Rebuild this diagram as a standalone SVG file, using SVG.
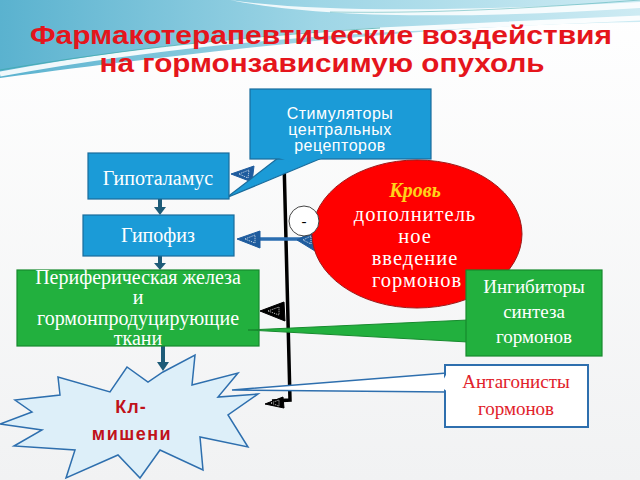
<svg xmlns="http://www.w3.org/2000/svg" width="640" height="480" viewBox="0 0 640 480">
<defs>
<linearGradient id="sky" x1="0" y1="0" x2="1" y2="0">
<stop offset="0" stop-color="#5ab2cf"/>
<stop offset="0.5" stop-color="#9fd6e6"/>
<stop offset="1" stop-color="#cdebf3"/>
</linearGradient>
<linearGradient id="floor" x1="0" y1="0" x2="0" y2="1">
<stop offset="0" stop-color="#ffffff"/>
<stop offset="1" stop-color="#f1f2f3"/>
</linearGradient>
<style>
.blue{fill:#1b9bd7;stroke:#1a6c9c;stroke-width:1.2}
.green{fill:#22b03e;stroke:#178a2e;stroke-width:1.2}
.wt{fill:#ffffff;font-family:"Liberation Serif","Times New Roman",serif;text-anchor:middle}
.ws{fill:#ffffff;font-family:"Liberation Sans",Arial,sans-serif;text-anchor:middle}
.title{fill:#e5151c;font-family:"Liberation Sans",Arial,sans-serif;font-weight:bold;text-anchor:middle}
.down{stroke:#1d5b78;stroke-width:4;fill:none}
.dhead{fill:#1d5b78}
.bhead{fill:#1f5c9e;stroke:#1f5c9e;stroke-width:1}
.khead{fill:#000;stroke:#000;stroke-width:1}
.dots{fill:none;stroke:#ffffff;stroke-width:0.8;stroke-dasharray:1 1}
</style>
</defs>
<rect width="640" height="480" fill="url(#floor)"/>
<path d="M0,0 H640 V22 C520,24 360,30 0,78 Z" fill="url(#sky)"/>
<path d="M0,74 C120,52 240,38 380,30 C470,26 560,22 640,18" fill="none" stroke="#ffffff" stroke-width="5" opacity="0.9"/>
<path d="M0,70 C130,48 250,36 380,28" fill="none" stroke="#3aa6a8" stroke-width="1" opacity="0.7"/>
<path d="M230,0 C330,14 480,10 640,2 L640,8 C480,18 330,20 230,0 Z" fill="#ffffff" opacity="0.85"/>
<path d="M330,12 C450,14 560,6 640,0" fill="none" stroke="#3aa6a8" stroke-width="0.8" opacity="0.6"/>

<text class="title" x="321" y="44" font-size="26" textLength="582" lengthAdjust="spacingAndGlyphs">Фармакотерапевтические воздействия</text>
<text class="title" x="322" y="72" font-size="26" textLength="445" lengthAdjust="spacingAndGlyphs">на гормонзависимую опухоль</text>

<g id="connectors">
<path class="down" d="M160,199 V209"/>
<polygon class="dhead" points="154,207 166,207 160,215"/>
<path class="down" d="M160,256 V264"/>
<polygon class="dhead" points="154,263 166,263 160,270"/>
<path class="down" d="M163,346 V364"/>
<polygon class="dhead" points="157,362 169,362 163,371"/>
<path d="M284,160 L290,400 L272,401" fill="none" stroke="#000" stroke-width="3.5"/>
<polygon class="khead" points="260,311 284,302 285,321"/>
<polygon class="dots" points="268,311 279,307 279,315"/>
<polygon class="khead" points="265,404 283,397 284,408"/>
<polygon class="dots" points="271,403 279,400 279,406"/>
<path d="M256,239 H312" stroke="#2a6db0" stroke-width="3.5"/>
<polygon class="bhead" points="237,239 260,231 260,248"/>
<polygon class="dots" points="245,239 255,235 255,243"/>
<polygon class="bhead" points="297,240 315,230 315,251"/>
<polygon class="dots" points="303,240 311,236 311,244"/>
<polygon class="bhead" points="231,174 254,166 252,182"/>
<polygon class="dots" points="239,174 249,170 248,178"/>
</g>

<g id="stimulators">
<polygon class="blue" points="278,158 226,198 322,158"/>
<rect class="blue" x="250" y="89" width="181" height="70"/>
<polygon points="279,158 322,158 300,165" fill="#1b9bd7"/>
<text class="ws" font-size="16" letter-spacing="0.5"><tspan x="340" y="119">Стимуляторы</tspan><tspan x="340" y="135">центральных</tspan><tspan x="340" y="151">рецепторов</tspan></text>
</g>

<g id="hypothalamus">
<rect class="blue" x="88" y="153" width="141" height="46"/>
<text class="wt" x="158" y="185" font-size="20">Гипоталамус</text>
</g>

<g id="hypophysis">
<rect class="blue" x="83" y="215" width="151" height="41"/>
<text class="wt" x="158" y="242" font-size="20">Гипофиз</text>
</g>

<g id="peripheral">
<rect class="green" x="17" y="270" width="242" height="76"/>
<text class="wt" font-size="20"><tspan x="138" y="284">Периферическая  железа</tspan><tspan x="138" y="304">и</tspan><tspan x="138" y="325">гормонпродуцирующие</tspan><tspan x="138" y="345">ткани</tspan></text>
</g>

<g id="blood">
<ellipse cx="417" cy="234" rx="105" ry="74" fill="#ff0000" stroke="#9c1a1a" stroke-width="1"/>
<text x="415" y="197" font-size="20" fill="#ffd21a" font-family="Liberation Serif,serif" font-weight="bold" font-style="italic" text-anchor="middle">Кровь</text>
<text class="wt" font-size="20.5" letter-spacing="1"><tspan x="415" y="221">дополнитель</tspan><tspan x="415" y="243">ное</tspan><tspan x="415" y="265">введение</tspan><tspan x="417" y="287">гормонов</tspan></text>
</g>

<g id="minus">
<circle cx="304" cy="221" r="15" fill="#ffffff" stroke="#444" stroke-width="1"/>
<text x="304" y="226" font-size="15" font-family="Liberation Serif,serif" text-anchor="middle" fill="#000">-</text>
</g>

<g id="inhibitors">
<polygon points="468,320 248,330 468,342" fill="#22b03e" stroke="#178a2e" stroke-width="1"/>
<rect class="green" x="466" y="270" width="136" height="86"/>
<text class="wt" font-size="19"><tspan x="534" y="293">Ингибиторы</tspan><tspan x="534" y="318">синтеза</tspan><tspan x="534" y="343">гормонов</tspan></text>
</g>

<g id="target">
<polygon points="163,372 195,355 192,385 238,373 218,397 258,394 228,415 248,447 200,437 203,470 160,450 140,478 118,455 66,478 75,450 14,446 42,430 0,424 32,412 15,400 60,395 58,377 110,392 127,367 148,382" fill="#ddeff9" stroke="#2e6fae" stroke-width="1.5" stroke-linejoin="miter"/>
<text x="131" y="413" font-size="18" fill="#c0121a" font-family="Liberation Sans,Arial,sans-serif" font-weight="bold" text-anchor="middle" letter-spacing="1">Кл-</text>
<text x="132" y="440" font-size="18" fill="#c0121a" font-family="Liberation Sans,Arial,sans-serif" font-weight="bold" text-anchor="middle" letter-spacing="1.5">мишени</text>
</g>

<g id="antagonists">
<polygon points="447,373 232,390 447,392" fill="#ffffff" stroke="#2e6fae" stroke-width="1.5"/>
<rect x="445" y="365" width="143" height="62" fill="#ffffff" stroke="#2e6fae" stroke-width="2"/>
<polygon points="446.5,374 446.5,391 440,386" fill="#ffffff"/>
<text x="516" y="388" font-size="19" fill="#e1222b" font-family="Liberation Serif,serif" text-anchor="middle">Антагонисты</text>
<text x="516" y="415" font-size="19" fill="#e1222b" font-family="Liberation Serif,serif" text-anchor="middle">гормонов</text>
</g>
</svg>
